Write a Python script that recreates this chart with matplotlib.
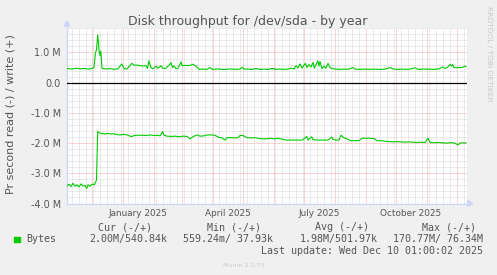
import datetime as dt
import matplotlib
matplotlib.use('Agg')
import matplotlib.pyplot as plt
import matplotlib.dates as mdates
from matplotlib.patches import Polygon, Rectangle
import numpy as np

W, H = 497, 275

# 400 day window ending at the last update
start = dt.datetime(2024, 11, 6, 7)
end = start + dt.timedelta(days=400)

# write (+) bytes/s in millions, x = days since start
write_day = [0, 5, 9, 13, 17, 21, 25, 27, 28.5, 29.5,
             30.7, 31.5, 32.2, 33, 33.8, 35, 39, 43, 47, 51,
             54.7, 57, 60, 64.7, 67, 71, 75, 79, 80.5, 82,
             84, 86, 89, 91, 94, 96, 99, 102, 104, 105.5,
             107, 109, 111, 114, 115, 119, 123, 125.7, 129, 132,
             136, 140, 143, 145, 149, 153, 157, 161, 165, 169,
             173, 175, 177, 181, 185, 189, 193, 197, 201, 205,
             209, 213, 217, 221, 224, 227, 229, 231, 233, 235,
             237, 238.5, 240, 242, 244, 246, 247.5, 249, 251, 252,
             253, 255, 257, 259, 261, 263, 265, 269, 273, 277,
             281, 286, 288, 293, 298, 303, 308, 313, 318, 323.7,
             326, 331, 335, 339, 343, 348, 351, 356, 361, 366,
             371, 375.7, 378, 381, 383, 384.5, 385.7, 387, 391, 395,
             398, 399]
write_mb = [0.47, 0.45, 0.48, 0.46, 0.47, 0.45, 0.47, 0.50, 1.00, 1.08,
            1.58, 1.30, 1.00, 0.90, 1.05, 0.48, 0.45, 0.47, 0.44, 0.46,
            0.62, 0.47, 0.45, 0.64, 0.58, 0.58, 0.55, 0.56, 0.47, 0.72,
            0.50, 0.46, 0.55, 0.48, 0.56, 0.47, 0.48, 0.58, 0.66, 0.50,
            0.56, 0.46, 0.47, 0.69, 0.57, 0.57, 0.57, 0.61, 0.55, 0.44,
            0.45, 0.44, 0.50, 0.44, 0.45, 0.45, 0.43, 0.45, 0.45, 0.44,
            0.45, 0.51, 0.45, 0.45, 0.44, 0.47, 0.44, 0.45, 0.44, 0.47,
            0.44, 0.45, 0.44, 0.45, 0.48, 0.45, 0.56, 0.49, 0.62, 0.48,
            0.58, 0.64, 0.50, 0.60, 0.52, 0.67, 0.48, 0.60, 0.72, 0.55,
            0.70, 0.46, 0.55, 0.48, 0.64, 0.50, 0.47, 0.45, 0.44, 0.45,
            0.44, 0.50, 0.45, 0.44, 0.45, 0.44, 0.45, 0.44, 0.45, 0.50,
            0.45, 0.44, 0.45, 0.44, 0.45, 0.49, 0.44, 0.45, 0.45, 0.44,
            0.45, 0.52, 0.47, 0.52, 0.61, 0.55, 0.60, 0.50, 0.50, 0.50,
            0.55, 0.53]

# read (-) bytes/s in millions, drawn below zero
read_day = [0, 2, 4, 6, 8, 10, 12, 14, 16, 18,
            19.7, 21, 23, 25, 27, 28.5, 29.5, 30.7, 32, 35,
            38, 41, 44, 47, 50, 53, 57, 61, 64.7, 67,
            71, 75, 79, 83, 87, 90, 93, 95.7, 97, 100,
            104, 108, 112, 116, 120, 123, 126, 129.7, 133, 137,
            140, 144, 148, 151, 155, 158, 160, 164, 168, 171,
            173, 176, 180, 184, 188, 191, 195, 199, 203, 207,
            211, 215, 219, 223, 227, 231, 235, 237, 239.7, 241,
            244.7, 246, 249, 253, 257, 261, 264.7, 266, 269, 272,
            274, 276, 278, 281, 284, 288, 292, 295, 299, 303,
            307, 310, 314, 318, 322, 326, 330, 334, 338, 342,
            346, 350, 354, 358, 361, 363, 367, 371, 375, 379,
            383, 387, 391, 393, 396, 399]
read_mb = [-3.41, -3.36, -3.44, -3.33, -3.43, -3.38, -3.45, -3.35, -3.42, -3.40,
           -3.50, -3.38, -3.43, -3.36, -3.38, -3.30, -3.22, -1.62, -1.66, -1.68,
           -1.70, -1.68, -1.70, -1.69, -1.72, -1.73, -1.71, -1.74, -1.79, -1.75,
           -1.74, -1.74, -1.75, -1.73, -1.75, -1.74, -1.76, -1.62, -1.74, -1.77,
           -1.78, -1.77, -1.79, -1.77, -1.78, -1.86, -1.79, -1.73, -1.77, -1.76,
           -1.73, -1.73, -1.74, -1.80, -1.83, -1.90, -1.82, -1.82, -1.83, -1.82,
           -1.75, -1.75, -1.82, -1.83, -1.82, -1.84, -1.86, -1.86, -1.84, -1.86,
           -1.84, -1.87, -1.90, -1.90, -1.90, -1.90, -1.90, -1.86, -1.78, -1.90,
           -1.79, -1.88, -1.90, -1.90, -1.90, -1.90, -1.80, -1.88, -1.90, -1.90,
           -1.74, -1.80, -1.84, -1.88, -1.92, -1.92, -1.92, -1.84, -1.84, -1.84,
           -1.85, -1.92, -1.92, -1.94, -1.95, -1.96, -1.95, -1.96, -1.97, -1.96,
           -1.97, -1.98, -1.97, -1.98, -1.84, -1.98, -1.99, -1.98, -1.99, -2.00,
           -1.99, -1.99, -2.06, -2.00, -1.99, -2.00]

ytick_vals = [1, 0, -1, -2, -3, -4]
ytick_labels = ['1.0 M', '0.0', '-1.0 M', '-2.0 M', '-3.0 M', '-4.0 M']
quarter_starts = [dt.datetime(2025, 1, 1), dt.datetime(2025, 4, 1),
                  dt.datetime(2025, 7, 1), dt.datetime(2025, 10, 1)]
quarter_labels = ['January 2025', 'April 2025', 'July 2025', 'October 2025']

legend_heads = ['Cur (-/+)', 'Min (-/+)', 'Avg (-/+)', 'Max (-/+)']
legend_vals = ['2.00M/540.84k', '559.24m/ 37.93k', '1.98M/501.97k', '170.77M/ 76.34M']
last_update = 'Last update: Wed Dec 10 01:00:02 2025'

FONT = '#555555'
AXIS = '#CFD6F8'
GREEN = '#00CC00'
MONO = 'DejaVu Sans Mono'


def fx(x):
    return x / W


def fy(y):
    return 1 - y / H


fig = plt.figure(figsize=(W / 100, H / 100), dpi=100, facecolor='#F0F0F0')
ax = fig.add_axes([fx(67), fy(203.5), 400 / W, (203.5 - 28.3) / H])
ax.set_facecolor('white')

t0 = mdates.date2num(start)
ax.set_xlim(t0, mdates.date2num(end))
ax.set_ylim(-4.0, 1.8)

# grid: weekly / monthly and 0.2 M / 1 M, dotted
ax.xaxis.set_major_locator(mdates.MonthLocator())
ax.xaxis.set_minor_locator(mdates.WeekdayLocator(byweekday=mdates.MO))
ax.set_yticks(ytick_vals, ytick_labels)
ax.set_yticks(np.arange(-4.0, 1.81, 0.2), minor=True)
ax.grid(which='minor', color='#d6d6d6', linestyle=(0, (1, 1)), linewidth=0.72)
ax.grid(which='major', color='#f4aaaa', linestyle=(0, (1, 1)), linewidth=0.72)
ax.set_axisbelow(True)
ax.tick_params(which='both', length=0)
ax.tick_params(axis='x', labelbottom=False)
ax.tick_params(axis='y', labelsize=6.9, colors=FONT, pad=4.3)

for s in ['top', 'right']:
    ax.spines[s].set_visible(False)
for s in ['left', 'bottom']:
    ax.spines[s].set_color(AXIS)
    ax.spines[s].set_linewidth(0.9)

ax.axhline(0, color='black', linewidth=0.9, zorder=3)
ax.plot(t0 + np.array(write_day), write_mb, color=GREEN, linewidth=0.8, zorder=4)
ax.plot(t0 + np.array(read_day), read_mb, color=GREEN, linewidth=0.8, zorder=4)

# quarter labels sit mid-month like rrdtool does
for d, lab in zip(quarter_starts, quarter_labels):
    ax.text(mdates.date2num(d) + 15, -(216 - 203.5) / 175.2, lab,
            transform=ax.get_xaxis_transform(), ha='center', va='baseline',
            fontsize=6.4, color=FONT)

# axis arrows
fig.patches.append(Polygon([(fx(64), fy(26.5)), (fx(70), fy(26.5)), (fx(67), fy(21))],
                           closed=True, color=AXIS, transform=fig.transFigure))
fig.patches.append(Polygon([(fx(467.5), fy(200.5)), (fx(467.5), fy(206.5)), (fx(473), fy(203.5))],
                           closed=True, color=AXIS, transform=fig.transFigure))

fig.text(fx(248), fy(24.5), 'Disk throughput for /dev/sda - by year',
         ha='center', va='baseline', fontsize=9, color=FONT)
fig.text(fx(10.5), fy(114), 'Pr second read (-) / write (+)', rotation=90,
         ha='center', va='center', fontsize=8, color=FONT)
fig.text(fx(488.5), fy(53.5), 'RRDTOOL / TOBI OETIKER', rotation=270,
         ha='center', va='center', fontsize=5.4, color='#c8c8c8')

# legend block
head_x = [98, 206.7, 315, 422.3]
val_end = [167, 272.7, 378, 483]
for x, t in zip(head_x, legend_heads):
    fig.text(fx(x), fy(230), t, family=MONO, fontsize=7.2, color=FONT, va='baseline')
fig.patches.append(Rectangle((fx(14), fy(242)), 5.5 / W, 5.5 / H, color=GREEN,
                             transform=fig.transFigure))
fig.text(fx(26), fy(242), 'Bytes', family=MONO, fontsize=7.2, color=FONT, va='baseline')
for x, t in zip(val_end, legend_vals):
    fig.text(fx(x), fy(242), t, family=MONO, fontsize=7.2, color=FONT,
             va='baseline', ha='right')
fig.text(fx(483), fy(254), last_update, family=MONO, fontsize=7.2, color=FONT,
         va='baseline', ha='right')
fig.text(fx(243.5), fy(267), 'Munin 2.0.73', ha='center', va='baseline',
         fontsize=4.6, color='#cccccc')

fig.savefig('out.png', dpi=100, facecolor=fig.get_facecolor())
